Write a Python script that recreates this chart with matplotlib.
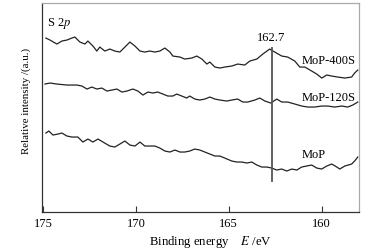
import matplotlib
matplotlib.use('Agg')
import matplotlib.pyplot as plt

plt.rcParams['font.family'] = ['Liberation Serif', 'DejaVu Serif']
plt.rcParams['mathtext.fontset'] = 'stix'

# Binding energy (eV) and relative intensity (a.u.)
e_400s = [174.84, 174.62, 174.25, 173.98, 173.71, 173.44, 173.28, 173.01, 172.74, 172.58,
          172.31, 172.10, 171.94, 171.67, 171.40, 171.13, 170.86, 170.59, 170.32, 170.05,
          169.78, 169.52, 169.25, 168.98, 168.71, 168.44, 168.17, 168.01, 167.63, 167.37,
          166.99, 166.72, 166.45, 166.18, 166.02, 165.75, 165.48, 165.22, 164.84, 164.52,
          164.14, 163.87, 163.49, 163.17, 162.80, 162.53, 162.15, 161.83, 161.45, 161.18,
          160.91, 160.54, 160.27, 160.00, 159.73, 159.46, 159.14, 158.76, 158.39, 158.23,
          158.06]
i_400s = [174, 172, 168, 171, 172, 174, 175, 170, 168, 171,
          166, 161, 165, 161, 163, 161, 160, 165, 170, 166,
          161, 160, 161, 160, 161, 164, 160, 156, 155, 153,
          154, 156, 153, 148, 150, 145, 144, 145, 146, 148,
          147, 151, 153, 158, 163, 160, 156, 155, 151, 145,
          145, 141, 138, 134, 137, 136, 135, 134, 135, 139,
          142]

e_120s = [174.89, 174.62, 174.25, 173.71, 173.17, 172.90, 172.63, 172.37, 172.10, 171.83,
          171.56, 171.29, 171.02, 170.75, 170.48, 170.16, 169.89, 169.62, 169.35, 169.09,
          168.82, 168.55, 168.28, 168.01, 167.80, 167.53, 167.26, 167.10, 166.83, 166.56,
          166.29, 166.02, 165.75, 165.48, 165.11, 164.84, 164.52, 164.25, 163.98, 163.60,
          163.33, 163.06, 162.74, 162.42, 162.15, 161.83, 161.45, 161.08, 160.75, 160.38,
          160.00, 159.68, 159.30, 158.92, 158.60, 158.33, 158.06]
i_120s = [128, 129, 128, 127, 127, 126, 123, 125, 123, 124,
          121, 122, 123, 120, 121, 123, 121, 117, 120, 119,
          120, 118, 116, 116, 118, 116, 114, 116, 113, 112,
          113, 115, 113, 112, 111, 112, 113, 110, 110, 112,
          114, 111, 109, 113, 110, 110, 108, 106, 105, 105,
          106, 106, 105, 106, 105, 107, 110]

e_mop = [174.84, 174.68, 174.46, 174.19, 173.98, 173.71, 173.44, 173.12, 172.85, 172.58,
         172.31, 172.04, 171.77, 171.40, 171.13, 170.86, 170.59, 170.32, 170.05, 169.78,
         169.52, 169.25, 168.98, 168.71, 168.44, 168.17, 167.90, 167.63, 167.37, 167.10,
         166.83, 166.56, 166.29, 166.02, 165.75, 165.48, 165.22, 164.84, 164.57, 164.30,
         164.03, 163.76, 163.49, 163.23, 162.96, 162.69, 162.42, 162.15, 161.88, 161.61,
         161.34, 161.08, 160.81, 160.54, 160.27, 160.00, 159.73, 159.46, 159.19, 159.03,
         158.76, 158.39, 158.23, 158.06]
i_mop = [79, 81, 77, 78, 79, 76, 75, 75, 70, 73,
         70, 73, 70, 66, 65, 68, 71, 67, 66, 70,
         66, 66, 66, 64, 61, 60, 62, 60, 60, 61,
         63, 62, 60, 58, 56, 56, 54, 51, 50, 50,
         49, 50, 47, 45, 45, 44, 42, 43, 41, 43,
         42, 45, 46, 47, 44, 43, 46, 48, 45, 43,
         46, 48, 51, 55]

peak_e = 162.7
xticks = [175, 170, 165, 160]

fig = plt.figure(figsize=(3.77, 2.53), dpi=100)
ax = fig.add_axes([0.1114, 0.158, 0.8406, 0.826])

for e, i in [(e_400s, i_400s), (e_120s, i_120s), (e_mop, i_mop)]:
    ax.plot(e, i, color='#222222', lw=0.9)

ax.plot([peak_e, peak_e], [31, 164], color='#555555', lw=1.3)

fs = 9
ax.text(peak_e, 175, '162.7', ha='center', va='center', fontsize=fs)
ax.text(159.62, 152, 'MoP-400S', ha='center', va='center', fontsize=fs)
ax.text(159.62, 115, 'MoP-120S', ha='center', va='center', fontsize=fs)
ax.text(160.43, 58, 'MoP', ha='center', va='center', fontsize=fs)
ax.text(174.78, 190, r'S 2$p$', ha='left', va='center', fontsize=fs)

ax.set_xlim(175.05, 158.0)
ax.set_ylim(0, 209)
ax.set_xticks(xticks)
ax.set_yticks([])
ax.tick_params(axis='x', direction='in', length=4, width=0.8, pad=3.5,
               labelsize=fs, color='#333333')
for s in ['left', 'bottom']:
    ax.spines[s].set_color('#333333')
    ax.spines[s].set_linewidth(0.9)
for s in ['top', 'right']:
    ax.spines[s].set_color('#aaaaaa')
    ax.spines[s].set_linewidth(0.9)

ax.set_xlabel(r'Binding energy    $E$ /eV', fontsize=9.2, va='center')
ax.xaxis.set_label_coords(0.531, -0.139)
ax.set_ylabel('Relative intensity /(a.u.)', fontsize=7.8, va='center')
ax.yaxis.set_label_coords(-0.05, 0.536)

plt.savefig('out.png', dpi=100)
